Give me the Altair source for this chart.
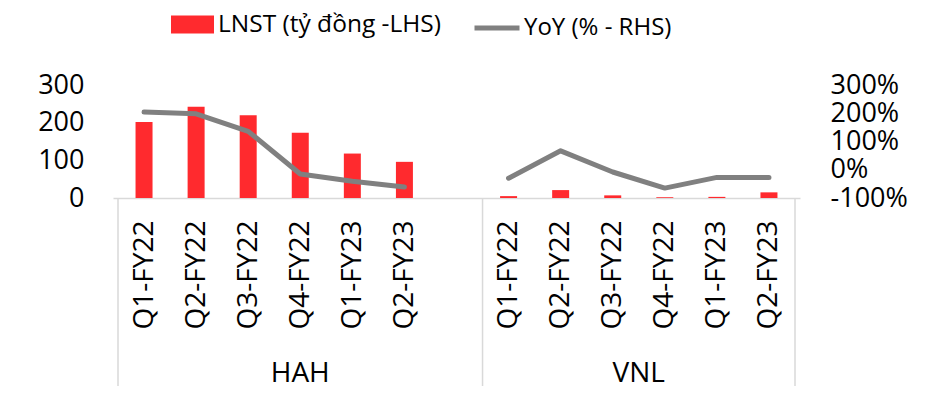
import altair as alt
import pandas as pd

groups = ["HAH"] * 6 + ["VNL"] * 6
quarters = ["Q1-FY22", "Q2-FY22", "Q3-FY22", "Q4-FY22", "Q1-FY23", "Q2-FY23"]
positions = [0, 1, 2, 3, 4, 5, 7, 8, 9, 10, 11, 12]
lnst = [202, 242, 220, 173, 118, 96, 5, 21, 7, 2, 3, 15]
yoy = [2.04, 1.98, 1.36, -0.15, -0.41, -0.61, -0.30, 0.67, -0.08, -0.65, -0.27, -0.27]
group_names = ["HAH", "VNL"]
group_centers = [3, 9.5]
separators = [-0.5, 6.5, 12.5]

bar_name = "LNST (tỷ đồng -LHS)"
line_name = "YoY (% - RHS)"
RED = "#FF2A2E"
GRAY = "#808080"
FONT = "Open Sans"

df = pd.DataFrame({
    "pos": positions,
    "group": groups,
    "quarter": quarters * 2,
    "lnst": lnst,
    "yoy": yoy,
    "s1": [bar_name] * 12,
    "s2": [line_name] * 12,
})
gdf = pd.DataFrame({"name": group_names, "pos": group_centers})
sdf = pd.DataFrame({"pos": separators})

label_expr = "datum.value < 7 ? {q}[datum.value] : {q}[datum.value - 7]".format(
    q="[" + ",".join("'" + q + "'" for q in quarters) + "]"
)

xscale = alt.Scale(domain=[-0.5, 12.5], nice=False, zero=False)
xaxis = alt.Axis(
    values=positions, labelExpr=label_expr, labelAngle=270, title=None,
    grid=False, ticks=False, domainColor="#d9d9d9", domainWidth=1.5,
    labelPadding=22, labelFontSize=28, labelFont=FONT, labelColor="black",
    labelOverlap=False, labelFlush=False)
X = alt.X("pos:Q", scale=xscale, axis=xaxis)

bars = alt.Chart(df).mark_bar(size=17).encode(
    x=X,
    y=alt.Y("lnst:Q", scale=alt.Scale(domain=[0, 300], nice=False), axis=alt.Axis(
        values=[0, 100, 200, 300], title=None, grid=False, ticks=False, domain=False,
        labelPadding=29, labelFontSize=27, labelFont=FONT, labelColor="black")),
    color=alt.Color("s1:N", scale=alt.Scale(range=[RED]), legend=alt.Legend(
        title=None, orient="none", legendX=58, legendY=-82,
        symbolType="M-1,-0.42H1V0.42H-1Z", symbolSize=1849, symbolStrokeWidth=0,
        symbolOpacity=1, labelFontSize=24.5, labelFont=FONT, labelColor="black",
        labelOffset=4, labelLimit=400)),
)

line = alt.Chart(df).mark_line(strokeWidth=5, strokeCap="round", strokeJoin="round").encode(
    x=X,
    y=alt.Y("yoy:Q", scale=alt.Scale(domain=[-1, 3], nice=False), axis=alt.Axis(
        orient="right", values=[-1, 0, 1, 2, 3], labelExpr="round(datum.value * 100) + '%'",
        title=None, grid=False, ticks=False, domain=False, labelPadding=30,
        labelFontSize=27, labelFont=FONT, labelColor="black")),
    detail="group:N",
    stroke=alt.Stroke("s2:N", scale=alt.Scale(range=[GRAY]), legend=alt.Legend(
        title=None, orient="none", legendX=359, legendY=-82,
        symbolType="stroke", symbolSize=2025, symbolStrokeWidth=5,
        labelFontSize=24, labelFont=FONT, labelColor="black", labelOffset=2,
        labelLimit=400)),
)

seps = alt.Chart(sdf).mark_rule(color="#d9d9d9", strokeWidth=1.5).encode(
    x=X,
    y=alt.value(113),
    y2=alt.value(320),
)

glabels = alt.Chart(gdf).mark_text(fontSize=28, font=FONT, color="black", baseline="alphabetic").encode(
    x=X,
    y=alt.value(297),
    text="name:N",
)

chart = alt.layer(seps, bars, line, glabels).resolve_scale(
    y="independent", color="independent", stroke="independent"
).properties(
    width=687, height=113,
    autosize=alt.AutoSizeParams(type="none"),
    padding={"left": 105, "top": 77, "right": 130, "bottom": 188},
).configure_view(stroke=None)

chart.save("out.html", embed_options={"renderer": "svg", "actions": False})
